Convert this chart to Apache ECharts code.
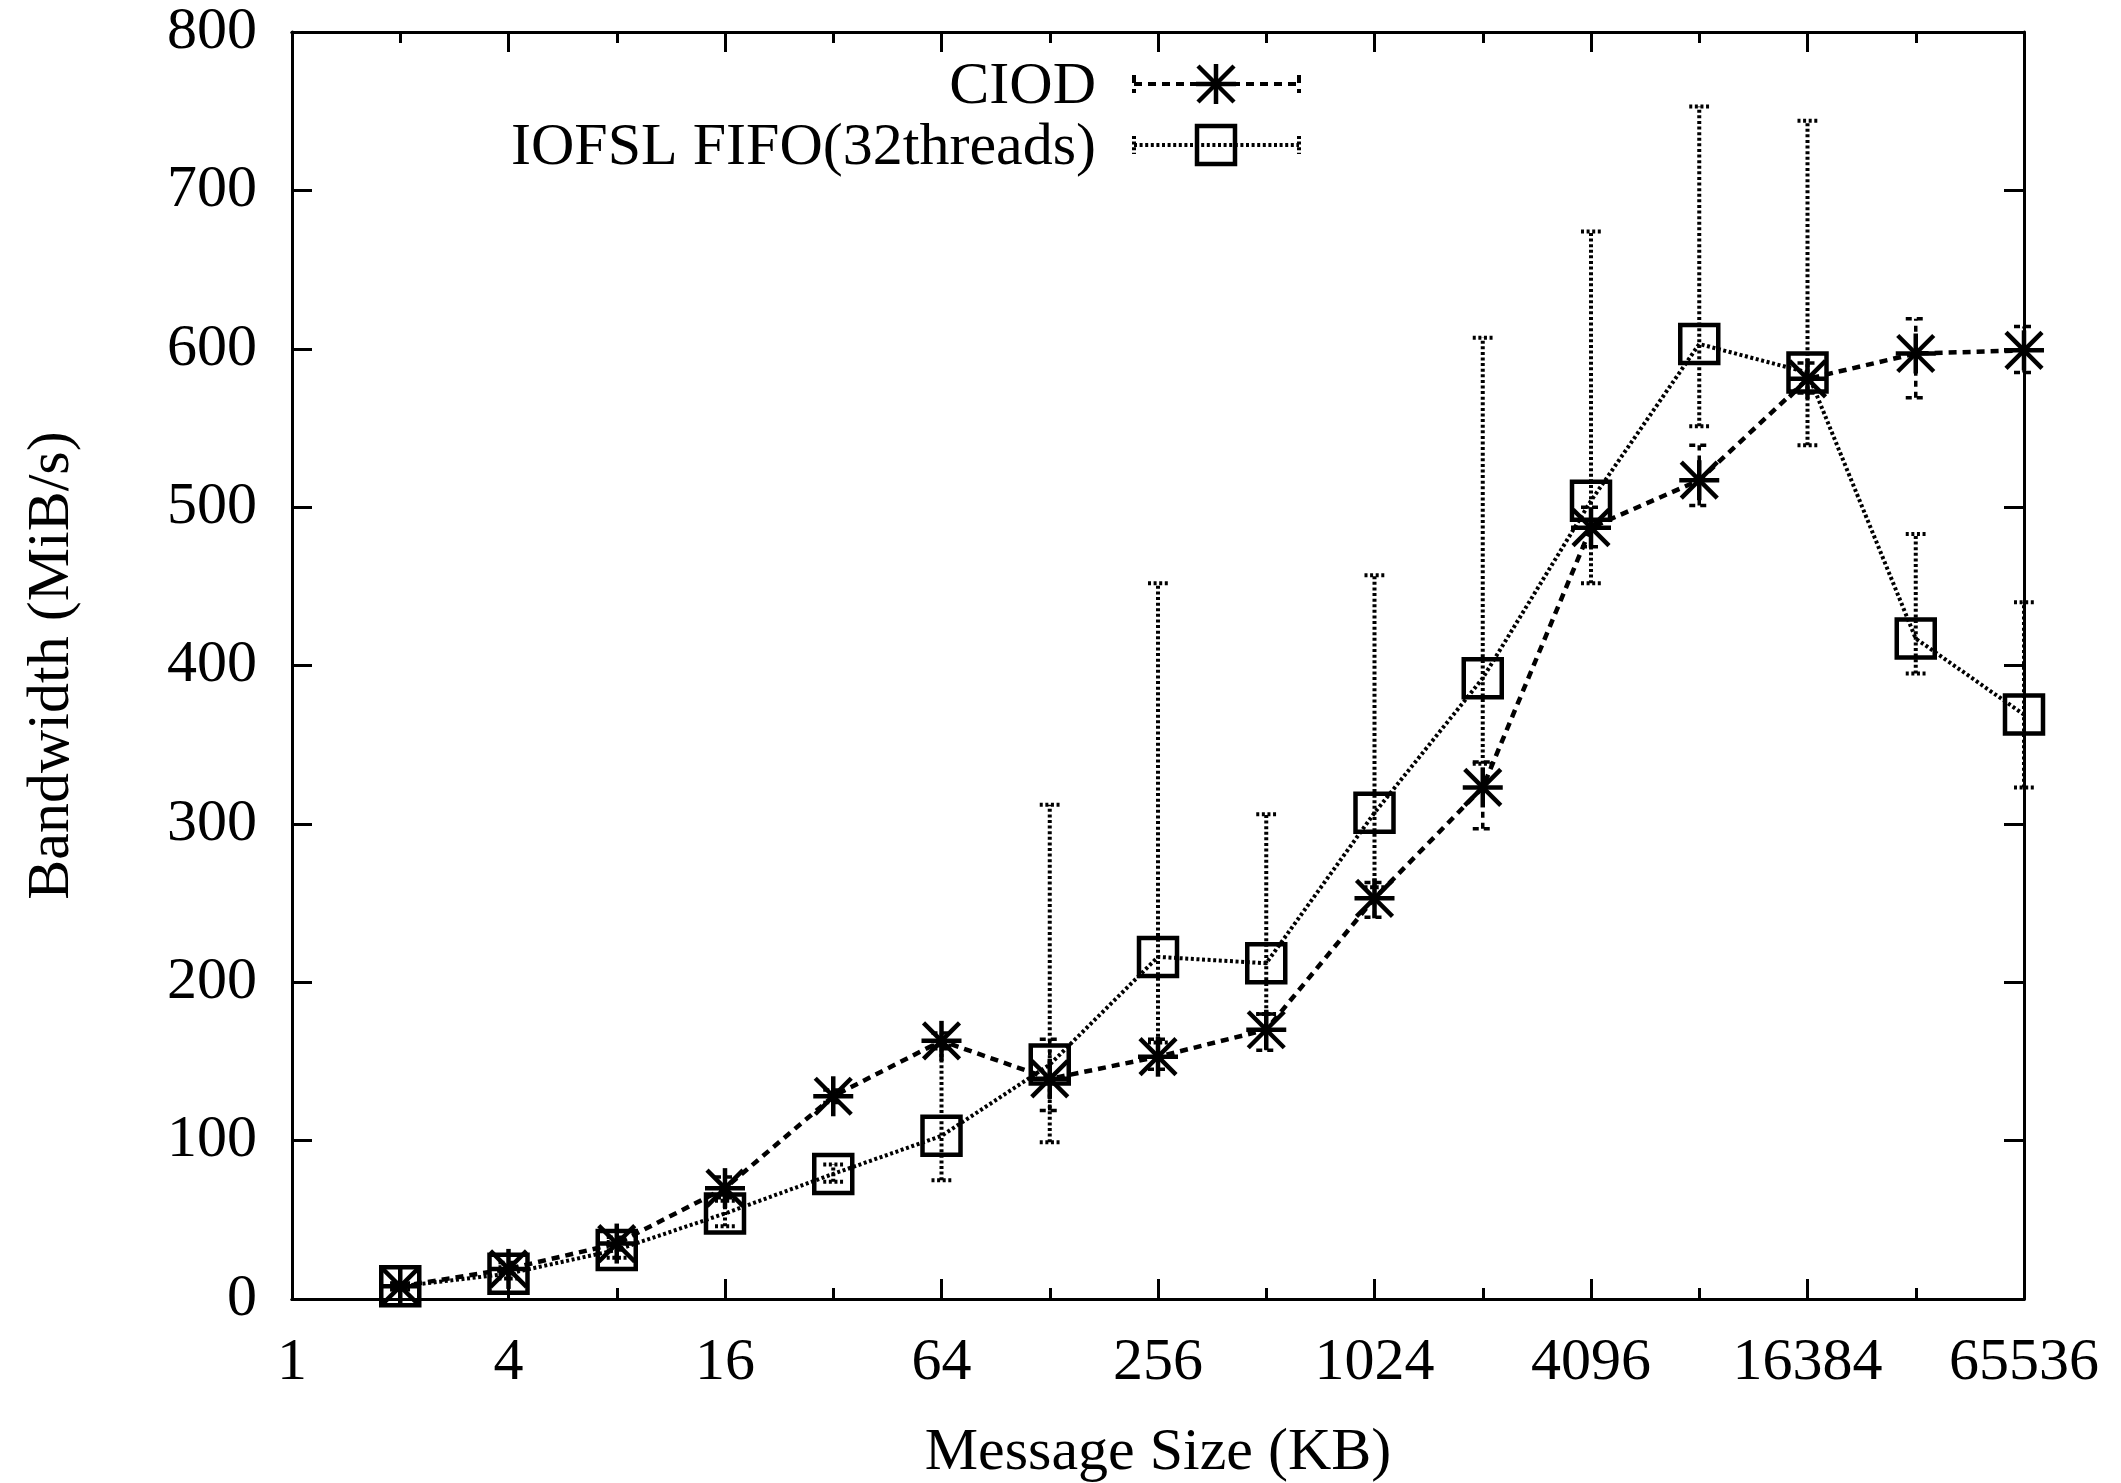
<!DOCTYPE html>
<html><head><meta charset="utf-8">
<script src="https://cdn.jsdelivr.net/npm/echarts@6/dist/echarts.min.js"></script>
<style>html,body{margin:0;padding:0;background:#fff}#c{width:2121px;height:1483px}</style>
</head><body><div id="c"></div>
<script>
// ---- data (message size in KB, bandwidth in MiB/s) ----
const sizes     = [2, 4, 8, 16, 32, 64, 128, 256, 512, 1024, 2048, 4096, 8192, 16384, 32768, 65536];
const ciodMean  = [8, 19, 35, 70, 128, 163, 139, 153, 170, 253, 323, 487, 517, 581, 597, 599];
const ciodLow   = [6, 16, 31, 64, 124, 158, 119, 145, 157, 241, 297, 475, 501, 572, 569, 585];
const ciodHigh  = [10, 23, 39, 77, 132, 168, 164, 164, 180, 263, 339, 500, 539, 591, 619, 614];
const fifoMean  = [8, 16, 31, 54, 79, 103, 148, 216, 212, 307, 392, 504, 603, 585, 417, 369];
const fifoLow   = [6, 13, 26, 46, 74, 75, 99, 162, 180, 260, 338, 452, 551, 539, 395, 323];
const fifoHigh  = [10, 20, 36, 62, 85, 160, 312, 452, 306, 457, 607, 674, 753, 744, 483, 440];
const seriesNames = ['CIOD', 'IOFSL FIFO(32threads)'];
const xTickLabels = [1, 4, 16, 64, 256, 1024, 4096, 16384, 65536];
const yTickLabels = [0, 100, 200, 300, 400, 500, 600, 700, 800];

const FONT = '"Liberation Serif","Times New Roman",Times,serif';
const BLACK = '#000';
const CIOD_DASH = [8, 6];
const FIFO_DASH = [3, 2.6];

function asterisk(cx, cy) {
  const r = 20, d = 18;
  const st = {stroke: BLACK, lineWidth: 4.5, fill: 'none'};
  return [
    {type: 'line', shape: {x1: cx - r, y1: cy, x2: cx + r, y2: cy}, style: st},
    {type: 'line', shape: {x1: cx, y1: cy - r, x2: cx, y2: cy + r}, style: st},
    {type: 'line', shape: {x1: cx - d, y1: cy - d, x2: cx + d, y2: cy + d}, style: st},
    {type: 'line', shape: {x1: cx - d, y1: cy + d, x2: cx + d, y2: cy - d}, style: st}
  ];
}
function square(cx, cy) {
  const h = 19;
  return [{type: 'rect', shape: {x: cx - h, y: cy - h, width: 2 * h, height: 2 * h},
           style: {stroke: BLACK, lineWidth: 4.5, fill: 'none'}}];
}

function errorBars(name, low, high, dash, width) {
  return {
    type: 'custom', name: name, silent: true, clip: false, z: 3,
    data: sizes.map((s, i) => [s, low[i], high[i]]),
    renderItem(params, api) {
      const x = api.value(0);
      const a = api.coord([x, api.value(1)]);
      const b = api.coord([x, api.value(2)]);
      const hw = 10;
      const st = {stroke: BLACK, lineWidth: width, lineDash: dash, fill: 'none'};
      return {type: 'group', children: [
        {type: 'line', shape: {x1: a[0], y1: a[1], x2: b[0], y2: b[1]}, style: st},
        {type: 'line', shape: {x1: a[0] - hw, y1: a[1], x2: a[0] + hw, y2: a[1]}, style: st},
        {type: 'line', shape: {x1: b[0] - hw, y1: b[1], x2: b[0] + hw, y2: b[1]}, style: st}
      ]};
    }
  };
}
function markers(name, mean, drawFn) {
  return {
    type: 'custom', name: name, silent: true, clip: false, z: 5,
    data: sizes.map((s, i) => [s, mean[i]]),
    renderItem(params, api) {
      const p = api.coord([api.value(0), api.value(1)]);
      return {type: 'group', children: drawFn(p[0], p[1])};
    }
  };
}
function lineSeries(name, mean, dash, width) {
  return {
    type: 'line', name: name, silent: true, z: 4, showSymbol: false, symbol: 'none',
    data: sizes.map((s, i) => [s, mean[i]]),
    lineStyle: {color: BLACK, width: width, type: dash}
  };
}

function xAxis(position, interval, tickLen, showLabel, extra) {
  return Object.assign({
    type: 'log', logBase: 2, min: 1, max: 65536, interval: interval, position: position,
    axisLine: {show: true, onZero: false, lineStyle: {color: BLACK, width: 3}},
    axisTick: {show: true, inside: true, length: tickLen, lineStyle: {color: BLACK, width: 3}},
    axisLabel: {show: showLabel, color: BLACK, fontSize: 60, fontFamily: FONT, margin: 34,
                formatter: v => (xTickLabels.indexOf(Math.round(v)) >= 0 ? String(Math.round(v)) : '')},
    splitLine: {show: false}, minorTick: {show: false}
  }, extra || {});
}
function yAxis(position, showLabel, extra) {
  return Object.assign({
    type: 'value', min: yTickLabels[0], max: yTickLabels[yTickLabels.length - 1], interval: 100,
    position: position,
    axisLine: {show: true, lineStyle: {color: BLACK, width: 3}},
    axisTick: {show: true, inside: true, length: 20, lineStyle: {color: BLACK, width: 3}},
    axisLabel: {show: showLabel, color: BLACK, fontSize: 60, fontFamily: FONT, margin: 35,
                padding: [10, 0, 0, 0]},
    splitLine: {show: false}
  }, extra || {});
}

const legendRows = [
  {y: 84, name: seriesNames[0], dash: CIOD_DASH, lw: 4, draw: asterisk},
  {y: 145, name: seriesNames[1], dash: FIFO_DASH, lw: 4, draw: square}
];
const graphics = [];
legendRows.forEach(r => {
  graphics.push({type: 'text', x: 1096, y: r.y + 3, style: {text: r.name, fill: BLACK,
    fontSize: 60, fontFamily: FONT, align: 'right', verticalAlign: 'middle',
    textAlign: 'right', textVerticalAlign: 'middle'}});
  const st = {stroke: BLACK, lineWidth: r.lw, lineDash: r.dash, fill: 'none'};
  graphics.push({type: 'line', shape: {x1: 1134, y1: r.y, x2: 1299, y2: r.y}, style: st});
  graphics.push({type: 'line', shape: {x1: 1134, y1: r.y - 9, x2: 1134, y2: r.y + 9}, style: st});
  graphics.push({type: 'line', shape: {x1: 1299, y1: r.y - 9, x2: 1299, y2: r.y + 9}, style: st});
  r.draw(1216, r.y).forEach(e => graphics.push(e));
});

const chart = echarts.init(document.getElementById('c'));
chart.setOption({
  animation: false,
  backgroundColor: '#fff',
  textStyle: {fontFamily: FONT, color: BLACK},
  grid: {left: 292, right: 97, top: 32, bottom: 184, containLabel: false, outerBoundsMode: 'none'},
  xAxis: [
    xAxis('bottom', 2, 20, true, {name: 'Message Size (KB)', nameLocation: 'middle', nameGap: 124,
      nameTextStyle: {fontSize: 60, fontFamily: FONT, color: BLACK}}),
    xAxis('bottom', 1, 11, false),
    xAxis('top', 2, 20, false),
    xAxis('top', 1, 11, false)
  ],
  yAxis: [
    yAxis('left', true, {name: 'Bandwidth (MiB/s)', nameLocation: 'middle', nameGap: 210,
      nameTextStyle: {fontSize: 60, fontFamily: FONT, color: BLACK}}),
    yAxis('right', false)
  ],
  series: [
    errorBars(seriesNames[0], ciodLow, ciodHigh, [6, 5], 3.5),
    lineSeries(seriesNames[0], ciodMean, CIOD_DASH, 4.5),
    markers(seriesNames[0], ciodMean, asterisk),
    errorBars(seriesNames[1], fifoLow, fifoHigh, FIFO_DASH, 4),
    lineSeries(seriesNames[1], fifoMean, FIFO_DASH, 4),
    markers(seriesNames[1], fifoMean, square)
  ],
  graphic: graphics
});
</script></body></html>
